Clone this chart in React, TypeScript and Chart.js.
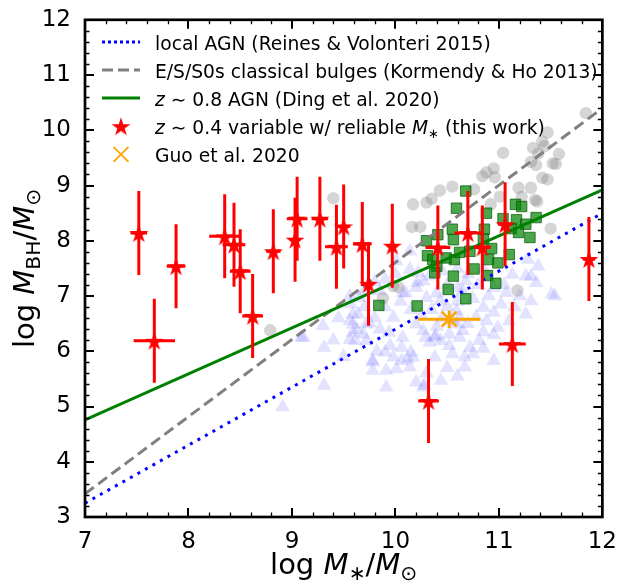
import React, { useEffect, useRef } from "react";
import { Chart, registerables } from "chart.js";

Chart.register(...registerables);

// ---------------- data ----------------
// relation lines (endpoints at the x-range limits)
const lineX = [7, 12];
const reinesY = [3.25, 8.5];
const kormendyY = [3.42, 10.4];
const dingY = [4.76, 8.92];

// this work: z~0.4 variable AGN with reliable M*
const starX = [7.52, 7.67, 7.88, 8.35, 8.44, 8.5, 8.62, 8.82, 9.03, 9.05, 9.27, 9.43, 9.5, 9.68, 9.74, 9.97, 10.32, 10.41, 10.7, 10.84, 11.06, 11.13, 11.87];
const starY = [8.14, 6.19, 7.54, 8.08, 7.93, 7.45, 6.64, 7.81, 8.02, 8.4, 8.4, 7.89, 8.26, 7.94, 7.22, 7.91, 5.1, 7.88, 8.14, 7.88, 8.3, 6.13, 7.67];
const starXerr = [0.08, 0.2, 0.09, 0.15, 0.11, 0.1, 0.1, 0.07, 0.05, 0.1, 0.08, 0.11, 0.06, 0.09, 0.05, 0.05, 0.1, 0.12, 0.13, 0.08, 0.07, 0.13, 0.06];
const starYerr = [0.76, 0.76, 0.76, 0.76, 0.76, 0.76, 0.76, 0.76, 0.76, 0.76, 0.76, 0.76, 0.76, 0.76, 0.76, 0.76, 0.76, 0.76, 0.76, 0.76, 0.76, 0.76, 0.76];

// Guo et al. 2020
const guoX = [10.52];
const guoY = [6.58];
const guoXerr = [0.3];
const guoYerr = [0.16];

// Ding et al. 2020 z~0.8 AGN
const dingPtsX = [10.68, 10.59, 10.88, 11.16, 11.22, 11.36, 11.17, 11.26, 11.3, 11.04, 11.12, 11.19, 10.55, 10.41, 10.3, 10.56, 10.86, 10.85, 10.31, 10.36, 10.57, 10.49, 10.62, 10.72, 10.93, 10.9, 10.99, 11.1, 10.4, 10.38, 10.56, 10.76, 10.89, 10.97, 10.51, 10.68, 10.21, 9.84];
const dingPtsY = [8.9, 8.59, 8.5, 8.66, 8.62, 8.42, 8.38, 8.3, 8.06, 8.4, 8.22, 8.15, 8.21, 8.11, 8.0, 8.02, 8.21, 8.03, 7.73, 7.66, 7.66, 7.69, 7.79, 7.81, 7.86, 7.66, 7.6, 7.75, 7.54, 7.42, 7.36, 7.49, 7.37, 7.23, 7.12, 6.95, 6.82, 6.83];

// Kormendy & Ho 2013 classical bulges
const bulgeX = [11.84, 11.47, 11.42, 11.33, 11.38, 11.58, 11.44, 11.31, 11.52, 11.36, 11.55, 11.04, 11.42, 11.47, 11.19, 11.31, 11.35, 11.22, 11.37, 11.5, 11.01, 10.88, 10.95, 10.96, 10.84, 10.76, 10.55, 10.43, 10.35, 10.3, 10.17, 10.16, 10.24, 10.92, 9.4, 11.18, 8.79, 9.88, 9.98, 10.03];
const bulgeY = [10.31, 9.96, 9.8, 9.68, 9.58, 9.57, 9.71, 9.43, 9.4, 9.37, 9.39, 9.59, 9.14, 9.11, 8.96, 8.96, 8.74, 8.8, 8.71, 8.22, 8.8, 9.24, 9.31, 9.15, 9.17, 8.93, 8.98, 8.91, 8.76, 8.69, 8.66, 8.25, 8.25, 8.66, 8.77, 7.1, 6.38, 6.96, 7.18, 7.16];

// Reines & Volonteri 2015 local AGN
const localX = [8.91, 9.31, 9.31, 9.3, 9.09, 9.57, 9.64, 9.59, 9.61, 9.69, 9.78, 9.78, 9.9, 9.91, 9.91, 10.06, 10.06, 10.15, 10.12, 10.2, 10.27, 10.38, 10.44, 10.29, 10.38, 10.44, 10.52, 10.52, 10.67, 10.67, 10.59, 10.65, 10.2, 10.27, 10.07, 9.94, 9.98, 9.72, 9.56, 9.65, 9.56, 9.85, 10.07, 10.2, 10.3, 10.43, 10.59, 10.65, 10.68, 10.27, 10.33, 10.95, 10.99, 11.26, 11.31, 11.51, 11.07, 10.85, 10.81, 10.72, 10.39, 10.33, 10.01, 10.14, 9.78, 9.11, 9.59, 9.59, 9.72, 9.82, 9.98, 10.17, 10.28, 11.54, 11.31, 11.28, 10.14, 10.22, 10.21, 9.75, 9.63, 9.56, 10.14, 10.01, 11.26, 11.36, 11.13, 11.38, 10.45, 10.55, 10.62, 10.7, 10.78, 10.88, 10.95, 11.02, 10.5, 10.6, 10.75, 10.9, 10.35, 10.4, 10.5, 10.6, 10.8, 10.95, 10.45, 10.6, 10.7, 10.85, 10.15, 10.05, 9.9, 9.8, 9.9, 10.0, 10.1, 10.4, 10.25, 10.85, 10.95, 11.1, 11.15, 11.05, 11.2, 10.55, 10.75, 10.85, 10.3, 10.5, 9.95, 9.85, 9.7, 9.45, 9.4, 9.5, 10.6, 10.62, 9.8, 9.7];
const localY = [4.99, 5.38, 6.07, 6.46, 6.25, 6.85, 6.67, 6.49, 6.19, 6.31, 5.83, 5.65, 5.98, 5.65, 5.35, 5.83, 6.07, 5.98, 5.86, 5.44, 5.35, 5.89, 5.47, 6.25, 6.25, 6.19, 6.31, 6.1, 5.89, 5.71, 6.49, 6.37, 6.49, 6.37, 6.25, 6.34, 6.61, 6.49, 6.55, 6.97, 7.0, 7.09, 7.06, 7.15, 6.97, 6.91, 6.73, 7.09, 7.27, 7.27, 7.36, 5.83, 6.43, 6.67, 6.91, 7.03, 7.06, 6.79, 6.19, 6.07, 6.28, 6.16, 5.68, 5.71, 5.8, 6.25, 6.67, 6.34, 6.19, 6.0, 5.89, 5.89, 5.38, 7.0, 7.36, 7.66, 7.48, 7.42, 7.24, 6.51, 6.39, 6.21, 7.81, 7.63, 7.36, 7.24, 7.39, 7.54, 6.6, 6.55, 6.6, 6.5, 6.62, 6.55, 6.7, 6.85, 6.8, 6.9, 6.95, 7.0, 6.75, 7.05, 7.2, 7.15, 7.2, 7.15, 7.45, 7.5, 7.4, 7.5, 6.75, 6.9, 6.8, 6.6, 7.3, 7.4, 7.05, 6.45, 6.65, 6.35, 6.3, 6.55, 6.8, 7.2, 7.0, 5.95, 5.95, 6.05, 5.6, 5.7, 6.1, 6.4, 6.8, 6.6, 6.2, 5.9, 5.55, 6.25, 7.25, 7.1];

// axes
const xTickValues = [7, 8, 9, 10, 11, 12];
const yTickValues = [3, 4, 5, 6, 7, 8, 9, 10, 11, 12];

// ---------------- helpers ----------------
const FAM = '"DejaVu Sans", sans-serif';
type Seg = { t: string; it?: boolean; sub?: boolean };

function segFont(s: Seg, size: number) {
  return `${s.it ? "italic " : ""}${s.sub ? size * 0.7 : size}px ${FAM}`;
}

function drawRich(ctx: CanvasRenderingContext2D, segs: Seg[], x: number, y: number, size: number, align: "left" | "center") {
  ctx.save();
  ctx.textBaseline = "alphabetic";
  ctx.textAlign = "left";
  let total = 0;
  const widths = segs.map((s) => {
    ctx.font = segFont(s, size);
    const w = ctx.measureText(s.t).width;
    total += w;
    return w;
  });
  let cx = align === "center" ? x - total / 2 : x;
  segs.forEach((s, i) => {
    ctx.font = segFont(s, size);
    ctx.fillText(s.t, cx, y + (s.sub ? size * 0.22 : 0));
    cx += widths[i];
  });
  ctx.restore();
}

function makeStar(R: number, color: string) {
  const c = document.createElement("canvas");
  const s = Math.ceil(R * 2 + 2);
  c.width = s;
  c.height = s;
  const g = c.getContext("2d")!;
  g.fillStyle = color;
  g.beginPath();
  for (let i = 0; i < 10; i++) {
    const r = i % 2 === 0 ? R : R * 0.381966;
    const a = -Math.PI / 2 + (i * Math.PI) / 5;
    const px = s / 2 + r * Math.cos(a);
    const py = s / 2 + r * Math.sin(a) + R * 0.1;
    if (i === 0) g.moveTo(px, py);
    else g.lineTo(px, py);
  }
  g.closePath();
  g.fill();
  return c;
}

const pts = (xs: number[], ys: number[]) => xs.map((x, i) => ({ x, y: ys[i] }));

// ---------------- plugins ----------------
const errorBarPlugin = {
  id: "errbars",
  beforeDatasetDraw(chart: any, args: any) {
    const ds = chart.data.datasets[args.index];
    if (!ds.errX) return;
    const { ctx, chartArea: ca, scales } = chart;
    const xs = scales.x, ys = scales.y;
    ctx.save();
    ctx.beginPath();
    ctx.rect(ca.left, ca.top, ca.right - ca.left, ca.bottom - ca.top);
    ctx.clip();
    ctx.strokeStyle = ds.errColor;
    ctx.lineWidth = ds.errWidth;
    ctx.lineCap = "butt";
    ds.data.forEach((p: any, i: number) => {
      const ex = ds.errX[i], ey = ds.errY[i];
      const px = xs.getPixelForValue(p.x), py = ys.getPixelForValue(p.y);
      ctx.beginPath();
      if (ex) {
        ctx.moveTo(xs.getPixelForValue(p.x - ex), py);
        ctx.lineTo(xs.getPixelForValue(p.x + ex), py);
      }
      if (ey) {
        ctx.moveTo(px, ys.getPixelForValue(p.y - ey));
        ctx.lineTo(px, ys.getPixelForValue(p.y + ey));
      }
      ctx.stroke();
    });
    ctx.restore();
  },
};

function makeDecorPlugin(star: HTMLCanvasElement) {
  return {
    id: "decor",
    afterDraw(chart: any) {
      const { ctx, chartArea: ca, scales } = chart;
      const xs = scales.x, ys = scales.y;
      ctx.save();
      ctx.strokeStyle = "#000";
      ctx.lineCap = "butt";
      // minor ticks
      ctx.lineWidth = 1.3;
      ctx.beginPath();
      for (let k = 0; k < (xTickValues.length - 1) * 5; k++) {
        if (k % 5 === 0) continue;
        const v = xTickValues[0] + k * 0.2;
        const p = Math.round(xs.getPixelForValue(v)) + 0.5;
        ctx.moveTo(p, ca.bottom); ctx.lineTo(p, ca.bottom - 4.5);
        ctx.moveTo(p, ca.top); ctx.lineTo(p, ca.top + 4.5);
      }
      for (let k = 0; k < (yTickValues.length - 1) * 5; k++) {
        if (k % 5 === 0) continue;
        const v = yTickValues[0] + k * 0.2;
        const p = Math.round(ys.getPixelForValue(v)) + 0.5;
        ctx.moveTo(ca.left, p); ctx.lineTo(ca.left + 4.5, p);
        ctx.moveTo(ca.right, p); ctx.lineTo(ca.right - 4.5, p);
      }
      ctx.stroke();
      // major ticks
      ctx.lineWidth = 2;
      ctx.beginPath();
      xTickValues.forEach((v) => {
        const p = Math.round(xs.getPixelForValue(v));
        ctx.moveTo(p, ca.bottom); ctx.lineTo(p, ca.bottom - 9);
        ctx.moveTo(p, ca.top); ctx.lineTo(p, ca.top + 9);
      });
      yTickValues.forEach((v) => {
        const p = Math.round(ys.getPixelForValue(v));
        ctx.moveTo(ca.left, p); ctx.lineTo(ca.left + 9, p);
        ctx.moveTo(ca.right, p); ctx.lineTo(ca.right - 9, p);
      });
      ctx.stroke();
      // frame
      ctx.lineWidth = 2.7;
      ctx.strokeRect(ca.left, ca.top, ca.right - ca.left, ca.bottom - ca.top);

      // axis titles
      ctx.fillStyle = "#000";
      drawRich(ctx, [{ t: "log " }, { t: "M", it: true }, { t: "\u2217", sub: true }, { t: "/" }, { t: "M", it: true }, { t: "\u2299", sub: true }], (ca.left + ca.right) / 2, 574, 29, "center");
      ctx.save();
      ctx.translate(34, (ca.top + ca.bottom) / 2);
      ctx.rotate(-Math.PI / 2);
      drawRich(ctx, [{ t: "log " }, { t: "M", it: true }, { t: "BH", sub: true }, { t: "/" }, { t: "M", it: true }, { t: "\u2299", sub: true }], 0, 0, 29, "center");
      ctx.restore();

      // legend
      const hx0 = 102, hx1 = 140, tx = 155, base0 = 49.6, step = 28.1, fs = 18.7;
      const rowY = (i: number) => base0 + i * step;
      const handle = (i: number, color: string, dash: number[]) => {
        ctx.save();
        ctx.strokeStyle = color;
        ctx.lineWidth = 3;
        ctx.setLineDash(dash);
        ctx.beginPath();
        ctx.moveTo(hx0, rowY(i) - 7.7);
        ctx.lineTo(hx1, rowY(i) - 7.7);
        ctx.stroke();
        ctx.restore();
      };
      handle(0, "#0000ff", [3, 3]);
      handle(1, "#808080", [11, 5]);
      handle(2, "#008000", []);
      ctx.drawImage(star, (hx0 + hx1) / 2 - star.width / 2, rowY(3) - 7.7 - star.height / 2);
      ctx.save();
      ctx.strokeStyle = "#ffa500";
      ctx.lineWidth = 1.8;
      const gx = (hx0 + hx1) / 2, gy = rowY(4) - 7.7, gr = 7.5;
      ctx.beginPath();
      ctx.moveTo(gx - gr, gy - gr); ctx.lineTo(gx + gr, gy + gr);
      ctx.moveTo(gx - gr, gy + gr); ctx.lineTo(gx + gr, gy - gr);
      ctx.stroke();
      ctx.restore();
      ctx.fillStyle = "#000";
      drawRich(ctx, [{ t: "local AGN (Reines & Volonteri 2015)" }], tx, rowY(0), fs, "left");
      drawRich(ctx, [{ t: "E/S/S0s classical bulges (Kormendy & Ho 2013)" }], tx, rowY(1), fs, "left");
      drawRich(ctx, [{ t: "z", it: true }, { t: " \u223C 0.8 AGN (Ding et al. 2020)" }], tx, rowY(2), fs, "left");
      drawRich(ctx, [{ t: "z", it: true }, { t: " \u223C 0.4 variable w/ reliable " }, { t: "M", it: true }, { t: "\u2217", sub: true }, { t: " (this work)" }], tx, rowY(3), fs, "left");
      drawRich(ctx, [{ t: "Guo et al. 2020" }], tx, rowY(4), fs, "left");
      ctx.restore();
    },
  };
}

// ---------------- component ----------------
export default function App() {
  const ref = useRef<HTMLCanvasElement | null>(null);

  useEffect(() => {
    if (!ref.current) return;
    const star = makeStar(10, "#ff0000");
    const lineDs = (data: number[], color: string, dash: number[], order: number) => ({
      data: pts(lineX, data),
      showLine: true,
      borderColor: color,
      borderWidth: 3,
      borderDash: dash,
      pointRadius: 0,
      fill: false,
      order,
    });
    const chart = new Chart(ref.current, {
      type: "scatter",
      data: {
        datasets: [
          {
            data: pts(starX, starY),
            pointStyle: star,
            pointRadius: 10,
            backgroundColor: "#ff0000",
            borderColor: "#ff0000",
            borderWidth: 0,
            errX: starXerr,
            errY: starYerr,
            errColor: "#ff0000",
            errWidth: 3,
            order: 0,
          } as any,
          {
            data: pts(guoX, guoY),
            pointStyle: "crossRot",
            pointRadius: 10.6,
            borderColor: "#ffa500",
            backgroundColor: "#ffa500",
            borderWidth: 2.5,
            errX: guoXerr,
            errY: guoYerr,
            errColor: "#ffa500",
            errWidth: 3,
            order: 1,
          } as any,
          lineDs(dingY, "#008000", [], 2),
          lineDs(kormendyY, "#808080", [11, 5.5], 3),
          lineDs(reinesY, "#0000ff", [3, 5.6], 4),
          {
            data: pts(dingPtsX, dingPtsY),
            pointStyle: "rect",
            pointRadius: 7.4,
            backgroundColor: "rgba(0,128,0,0.7)",
            borderColor: "rgba(0,90,0,0.7)",
            borderWidth: 1,
            order: 5,
          },
          {
            data: pts(bulgeX, bulgeY),
            pointStyle: "circle",
            pointRadius: 6.2,
            backgroundColor: "rgba(128,128,128,0.33)",
            borderWidth: 0,
            order: 6,
          },
          {
            data: pts(localX, localY),
            pointStyle: "triangle",
            pointRadius: 8.5,
            backgroundColor: "rgba(0,0,255,0.11)",
            borderWidth: 0,
            order: 7,
          },
        ],
      },
      options: {
        animation: false,
        responsive: false,
        events: [],
        layout: { padding: { left: 0, right: 17, top: 17, bottom: 0 } },
        plugins: { legend: { display: false }, tooltip: { enabled: false } },
        scales: {
          x: {
            type: "linear",
            min: 7,
            max: 12,
            grid: { display: false },
            border: { display: false },
            ticks: { stepSize: 1, color: "#000", font: { size: 23, family: FAM }, padding: 3, maxRotation: 0, autoSkip: false },
            afterFit: (s: any) => { s.height = 67; },
          },
          y: {
            type: "linear",
            min: 3,
            max: 12,
            grid: { display: false },
            border: { display: false },
            ticks: { stepSize: 1, color: "#000", font: { size: 23, family: FAM }, padding: 6, autoSkip: false },
            afterFit: (s: any) => { s.width = 85; },
          },
        },
      } as any,
      plugins: [errorBarPlugin, makeDecorPlugin(star)],
    });
    return () => chart.destroy();
  }, []);

  return (
    <div style={{ position: "fixed", left: 0, top: 0, width: 620, height: 584, background: "#fff" }}>
      <canvas ref={ref} width={620} height={584} style={{ display: "block" }} />
    </div>
  );
}
